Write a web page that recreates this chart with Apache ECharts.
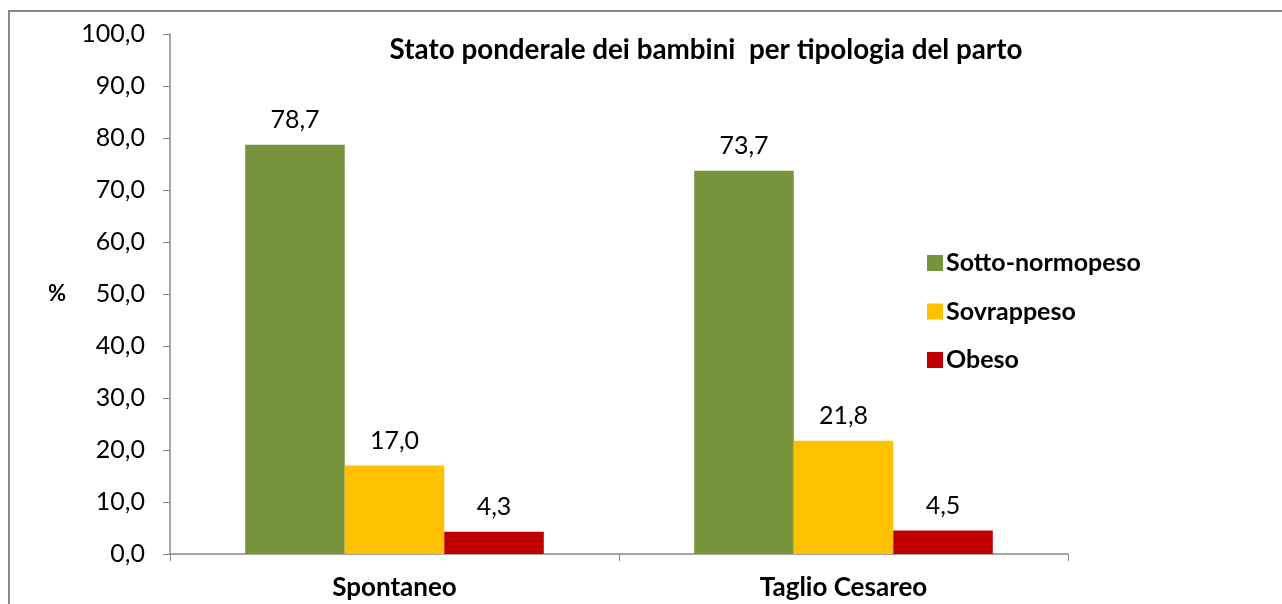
<!DOCTYPE html>
<html><head><meta charset="utf-8">
<script src="https://cdn.jsdelivr.net/npm/echarts@6/dist/echarts.min.js"></script>
<style>html,body{margin:0;padding:0;background:#fff}#c{width:1282px;height:604px}</style>
</head><body><div id="c"></div>
<script>
const categories = ['Spontaneo', 'Taglio Cesareo'];
const seriesNames = ['Sotto-normopeso', 'Sovrappeso', 'Obeso'];
const sottoNormopeso = [78.7, 73.7];
const sovrappeso = [17.0, 21.8];
const obeso = [4.3, 4.5];
const colors = ['#77933C', '#FFC000', '#C00000'];
const titleText = 'Stato ponderale dei bambini  per tipologia del parto';
const FONT = 'Lato, "Open Sans", sans-serif';
const fmt = v => v.toFixed(1).replace('.', ',');
const values = [sottoNormopeso, sovrappeso, obeso];

const chart = echarts.init(document.getElementById('c'));
chart.setOption({
  animation: false,
  backgroundColor: '#fff',
  graphic: [{
    type: 'rect', left: 8, top: 10, z: -1,
    shape: { width: 1400, height: 800 },
    style: { fill: 'transparent', stroke: '#888', lineWidth: 2 }
  }],
  title: {
    text: titleText, left: 701, top: 31, textAlign: 'center',
    textStyle: { fontFamily: FONT, fontWeight: 'bold', fontSize: 27.8, color: '#000' }
  },
  legend: {
    orient: 'vertical', left: 922, top: 245, itemGap: 22.5,
    itemWidth: 16, itemHeight: 16, icon: 'rect',
    textStyle: { fontFamily: FONT, fontWeight: 'bold', fontSize: 25, lineHeight: 26, color: '#000', padding: [0, 0, 0, -2] },
    data: seriesNames
  },
  grid: { left: 170, right: 214, top: 34, bottom: 50, containLabel: false },
  xAxis: {
    type: 'category', data: categories,
    axisLine: { lineStyle: { color: '#888', width: 1.5 } },
    axisTick: { show: true, length: 7, lineStyle: { color: '#888' } },
    axisLabel: { fontFamily: FONT, fontWeight: 'bold', fontSize: 26, color: '#000', margin: 21 }
  },
  yAxis: {
    type: 'value', min: 0, max: 100, interval: 10,
    name: '%', nameLocation: 'middle', nameGap: 104, nameRotate: 0,
    nameTextStyle: { fontFamily: FONT, fontWeight: 'bold', fontSize: 22, color: '#000' },
    axisLine: { show: true, lineStyle: { color: '#888', width: 1.5 } },
    axisTick: { show: true, inside: false, length: 7, lineStyle: { color: '#888' } },
    splitLine: { show: false },
    axisLabel: { fontFamily: FONT, fontSize: 25, color: '#000', margin: 25, formatter: v => fmt(v) }
  },
  series: seriesNames.map((n, i) => ({
    name: n, type: 'bar', data: values[i],
    barGap: '0%', barCategoryGap: '33.5%',
    itemStyle: { color: colors[i] },
    label: {
      show: true, position: 'top', distance: 12,
      fontFamily: FONT, fontSize: 25, color: '#000',
      formatter: p => fmt(p.value)
    }
  }))
});
</script></body></html>
